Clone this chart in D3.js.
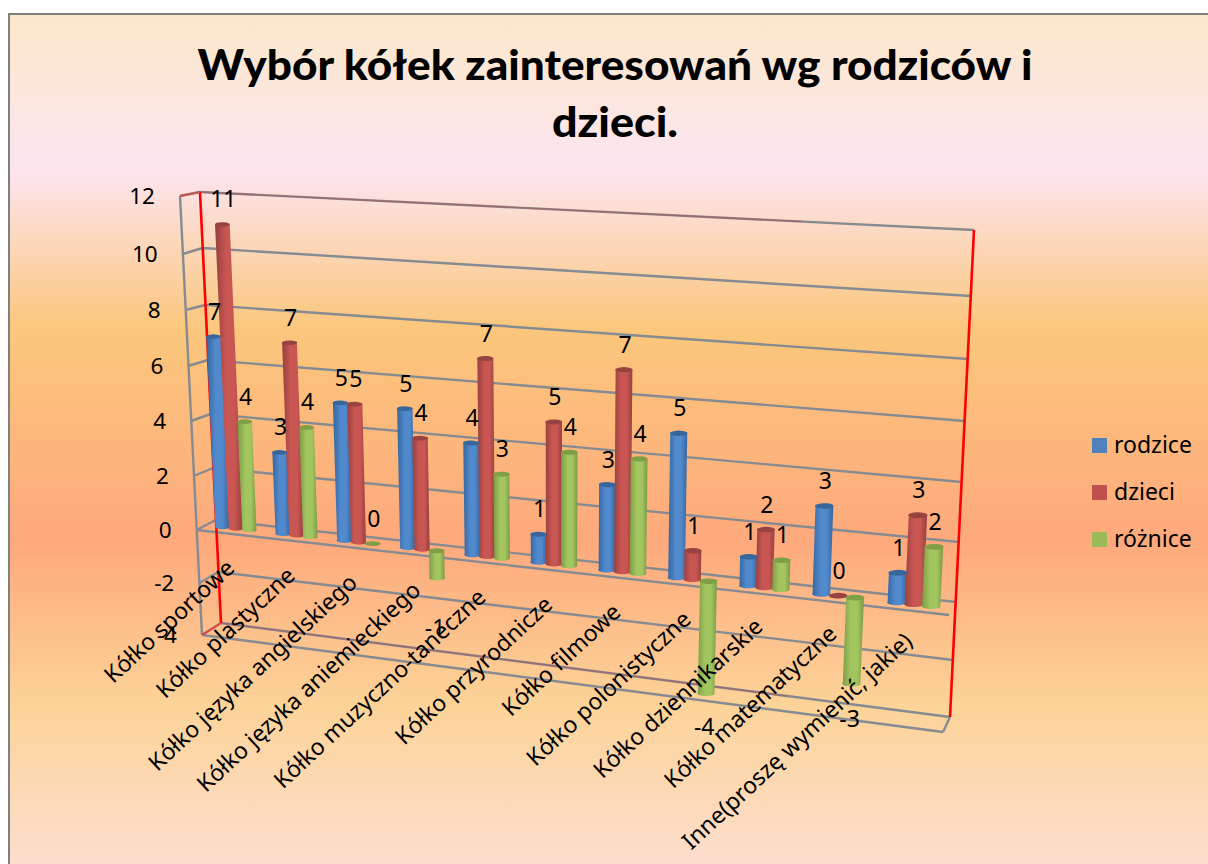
<!DOCTYPE html>
<html>
<head>
<meta charset="utf-8">
<style>
  html, body { margin: 0; padding: 0; background: #fff; }
  svg { display: block; }
  text { font-family: "Noto Sans", sans-serif; fill: #000; }
  .title { font-family: Lato, "Noto Sans", sans-serif; }
</style>
<script src="https://cdn.jsdelivr.net/npm/d3@7"></script>
</head>
<body>
<svg id="chart" width="1208" height="864"></svg>
<script>
// chart values
var categories = ['Kółko sportowe', 'Kółko plastyczne', 'Kółko języka angielskiego',
  'Kółko języka aniemieckiego', 'Kółko muzyczno-taneczne', 'Kółko przyrodnicze',
  'Kółko filmowe', 'Kółko polonistyczne', 'Kółko dziennikarskie',
  'Kółko matematyczne', 'Inne(proszę wymienić, jakie)']
var seriesNames = ['rodzice', 'dzieci', 'różnice']
var rodzice = [7, 3, 5, 5, 4, 1, 3, 5, 1, 3, 1]
var dzieci = [11, 7, 5, 4, 7, 5, 7, 1, 2, 0, 3]
var roznice = [4, 4, 0, -1, 3, 4, 4, -4, 1, -3, 2]
var valueTicks = [12, 10, 8, 6, 4, 2, 0, -2, -4]
var titleLines = ['Wybór kółek zainteresowań wg rodziców i', 'dzieci.']

var allSeries = [rodzice, dzieci, roznice]
var seriesColours = [
  { edge: '#35659f', mid: '#5089cc', top: '#38669c' },
  { edge: '#96403d', mid: '#c95653', top: '#984341' },
  { edge: '#7b9a44', mid: '#a3c560', top: '#7f9e45' }
]

var W = 1208, H = 864
var svg = d3.select('#chart')

// the 3d box: one scale per vertical edge, value -> screen
var flX = d3.scaleLinear().domain([12, -4]).range([180, 202])
var blX = d3.scaleLinear().domain([12, -4]).range([200, 221])
var brX = d3.scaleLinear().domain([12, -4]).range([974, 950])
var frX = d3.scaleLinear().domain([12, -4]).range([967, 943])
var flY = d3.scaleLinear().domain(valueTicks).range([196, 254, 310, 366, 421, 476, 530, 583, 635])
var blY = d3.scaleLinear().domain(valueTicks).range([192, 248, 305, 360, 414, 468, 520, 572, 623])
var brY = d3.scaleLinear().domain(valueTicks).range([230, 296, 359, 421, 482, 542, 602, 660, 717])
var frY = d3.scaleLinear().domain(valueTicks).range([244, 310, 373, 435, 496, 556, 615, 674, 732])

// categories get wider towards the right, the chart is in perspective
var perspK = 1.146
function persp(u) { return u / (u + perspK * (1 - u)) }

function project(u, v, depth) {
  var t = persp(u)
  var lx = flX(v) + (blX(v) - flX(v)) * depth
  var rx = frX(v) + (brX(v) - frX(v)) * depth
  var ly = flY(v) + (blY(v) - flY(v)) * depth
  var ry = frY(v) + (brY(v) - frY(v)) * depth
  return [lx + (rx - lx) * t, ly + (ry - ly) * t]
}

var catBand = d3.scaleBand().domain(d3.range(categories.length)).range([0, 1])
var barOffset = 0.225 * catBand.bandwidth()
var barRadius = 0.118 * catBand.bandwidth()
var barDepth = 0.5

// background
var defs = svg.append('defs')
var bg = defs.append('linearGradient').attr('id', 'bg')
  .attr('x1', 0).attr('x2', 0).attr('y1', 0).attr('y2', 1)
var bgStops = [[0, '#fbe8c9'], [0.18, '#fde5f0'], [0.365, '#fbc77c'], [0.61, '#fea97c'], [0.8, '#fcd398'], [1, '#fddfd2']]
bg.selectAll('stop').data(bgStops).join('stop')
  .attr('offset', d => d[0]).attr('stop-color', d => d[1])

seriesColours.forEach((c, i) => {
  var g = defs.append('linearGradient').attr('id', 'bar' + i)
  g.append('stop').attr('offset', 0).attr('stop-color', c.edge)
  g.append('stop').attr('offset', 0.4).attr('stop-color', c.mid)
  g.append('stop').attr('offset', 0.7).attr('stop-color', c.mid)
  g.append('stop').attr('offset', 1).attr('stop-color', c.edge)
})

svg.append('rect').attr('x', 9).attr('y', 14).attr('width', W).attr('height', H)
  .attr('fill', 'url(#bg)').attr('stroke', '#808080').attr('stroke-width', 2)

// title
var titleWidths = [835, 126]
svg.selectAll('.title').data(titleLines).join('text')
  .attr('class', 'title')
  .attr('x', 615)
  .attr('y', (d, i) => 80 + i * 57)
  .attr('text-anchor', 'middle')
  .attr('font-size', 42)
  .attr('font-weight', 900)
  .attr('textLength', (d, i) => titleWidths[i])
  .attr('lengthAdjust', 'spacingAndGlyphs')
  .text(d => d)

// walls
var grid = svg.append('g').attr('fill', 'none')
function seg(a, b, colour, w, op) {
  grid.append('line')
    .attr('x1', a[0]).attr('y1', a[1]).attr('x2', b[0]).attr('y2', b[1])
    .attr('stroke', colour).attr('stroke-width', w)
    .attr('stroke-opacity', op || 1)
}
var grey = '#868b92'
valueTicks.forEach(v => {
  seg(project(0, v, 0), project(0, v, 1), grey, 2.4)
  seg(project(0, v, 1), project(1, v, 1), grey, 2.4)
})
// floor at zero and at the bottom of the box
seg(project(0, 0, 0), project(1, 0, 0), grey, 2.4)
seg(project(0, -4, 0), project(1, -4, 0), grey, 2.4)
seg(project(1, -4, 0), project(1, -4, 1), grey, 2.4)
seg(project(0, 12, 0), project(0, -4, 0), grey, 2.4)
// the red back edges
seg(project(0, 12, 1), project(0, -4, 1), '#ff0000', 2.6)
seg(project(1, 12, 1), project(1, -4, 1), '#ff0000', 2.6)
seg(project(0, 12, 0), project(0, 12, 1), '#c8504c', 1.8)
seg(project(0, -4, 0), project(0, -4, 1), '#e8403c', 1.8)
seg(project(0, 12, 1), project(0.8, 12, 1), '#d02828', 1.4, 0.35)
seg(project(0, -4, 1), project(0.8, -4, 1), '#d02828', 1.4, 0.3)

// y tick labels
svg.selectAll('.ytick').data(valueTicks).join('text')
  .attr('class', 'ytick')
  .attr('x', d => flX(d) - 25)
  .attr('y', d => flY(d) + 8)
  .attr('text-anchor', 'end')
  .attr('font-size', 22.5)
  .text(d => d)

// cylinders
var bars = []
allSeries.forEach((vals, s) => {
  vals.forEach((v, i) => {
    var u = catBand(i) + catBand.bandwidth() / 2 + (s - 1) * barOffset
    bars.push({ s: s, i: i, v: v, u: u })
  })
})

function ellipseArc(a, b, ry, sweep) {
  var rx = Math.abs(b[0] - a[0]) / 2
  return 'A' + rx + ',' + ry + ' 0 0 ' + sweep + ' ' + b[0] + ',' + b[1]
}
function barParts(d) {
  var hi = Math.max(d.v, 0), lo = Math.min(d.v, 0)
  var tl = project(d.u - barRadius, hi, barDepth), tr = project(d.u + barRadius, hi, barDepth)
  var bl = project(d.u - barRadius, lo, barDepth), br = project(d.u + barRadius, lo, barDepth)
  var ry = Math.abs(tr[0] - tl[0]) * 0.15
  return {
    body: 'M' + tl + 'L' + bl + ellipseArc(bl, br, ry, 0) + 'L' + tr + 'Z',
    top: 'M' + tl + ellipseArc(tl, tr, ry, 1) + ellipseArc(tr, tl, ry, 1) + 'Z'
  }
}

var barG = svg.append('g')
barG.selectAll('.body').data(bars.filter(d => d.v != 0)).join('path')
  .attr('class', 'body')
  .attr('d', d => barParts(d).body)
  .attr('fill', d => 'url(#bar' + d.s + ')')
barG.selectAll('.top').data(bars).join('path')
  .attr('class', 'top')
  .attr('d', d => barParts(d).top)
  .attr('fill', d => seriesColours[d.s].top)

// value labels
function labelPos(d) {
  var p = project(d.u, d.v, barDepth)
  if (d.v < 0) return [p[0] - 2, p[1] + 30 + 22 / -d.v + 6]
  return [p[0] + 1, p[1] - 17]
}
svg.selectAll('.vlabel').data(bars).join('text')
  .attr('class', 'vlabel')
  .attr('x', d => labelPos(d)[0])
  .attr('y', d => labelPos(d)[1])
  .attr('text-anchor', 'middle')
  .attr('font-size', 23)
  .text(d => d.v)

// category labels, rotated under the zero line
var catEndY = d3.scaleLinear().domain([0, categories.length - 1]).range([570, 643])
svg.selectAll('.cat').data(categories).join('text')
  .attr('class', 'cat')
  .attr('text-anchor', 'end')
  .attr('font-size', 23)
  .attr('transform', (d, i) => {
    var p = project(catBand(i) + catBand.bandwidth() / 2, 0, barDepth)
    return 'translate(' + p[0] + ',' + catEndY(i) + ') rotate(-43)'
  })
  .text(d => d)

// legend
var legend = svg.selectAll('.leg').data(seriesNames).join('g')
  .attr('class', 'leg')
  .attr('transform', (d, i) => 'translate(1092,' + (438 + i * 47) + ')')
legend.append('rect').attr('width', 15).attr('height', 15)
  .attr('fill', (d, i) => ['#4f81bd', '#c0504d', '#9bbb59'][i])
legend.append('text').attr('x', 22).attr('y', 15).attr('font-size', 23).text(d => d)
</script>
</body>
</html>
